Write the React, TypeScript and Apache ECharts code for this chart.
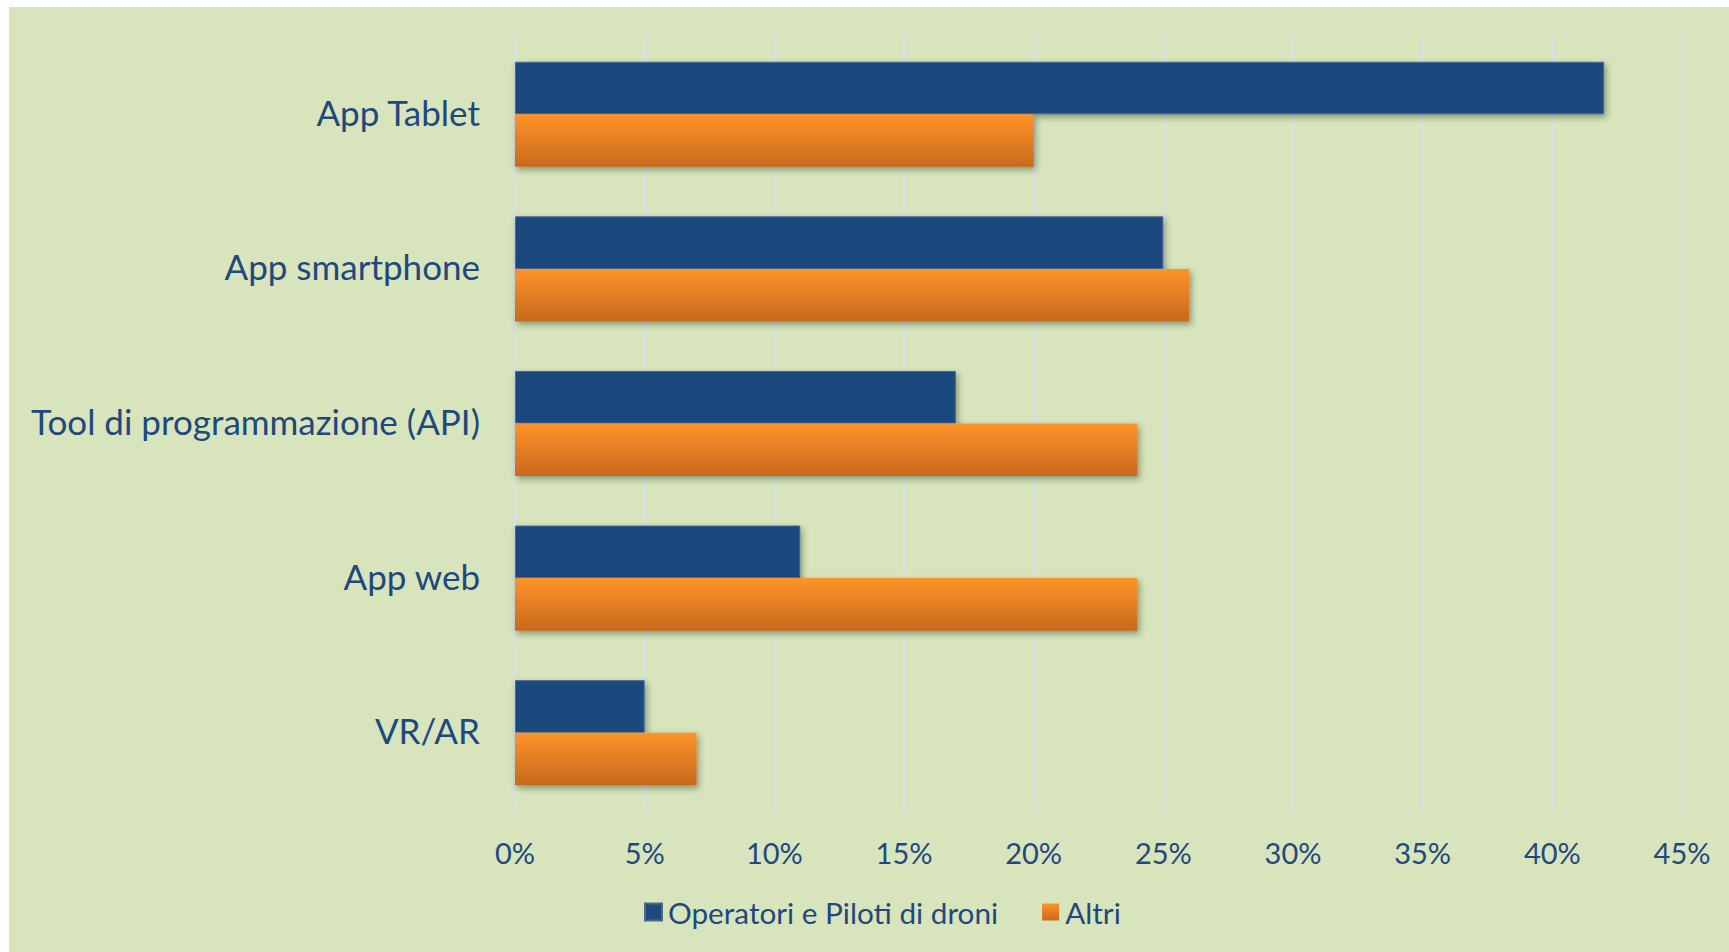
import React, { useEffect, useRef } from "react";
import * as echarts from "echarts";

const categories = ["App Tablet", "App smartphone", "Tool di programmazione (API)", "App web", "VR/AR"];
const seriesNames = ["Operatori e Piloti di droni", "Altri"];
const operatori = [42, 25, 17, 11, 5];
const altri = [20, 26, 24, 24, 7];
const tickMax = 45;
const tickStep = 5;

const TEXT = "#1F497D";
const FONT = "Lato";

export default function App() {
  const ref = useRef<HTMLDivElement>(null);
  useEffect(() => {
    if (!ref.current) return;
    const chart = echarts.init(ref.current, null, { renderer: "svg" });
    const shadow = {
      shadowColor: "rgba(40,50,20,0.45)",
      shadowBlur: 6,
      shadowOffsetX: 2,
      shadowOffsetY: 3,
    };
    chart.setOption({
      animation: false,
      backgroundColor: "#D8E4BC",
      textStyle: { fontFamily: FONT, color: TEXT },
      grid: { left: 506, right: 47, top: 30, bottom: 142 },
      legend: {
        left: 630,
        top: 885,
        itemWidth: 17,
        itemHeight: 17,
        itemGap: 44,
        icon: "rect",
        textStyle: { fontFamily: FONT, fontSize: 29.7, color: TEXT, padding: [0, 0, 0, 1] },
        data: seriesNames,
      },
      xAxis: {
        type: "value",
        min: 0,
        max: tickMax,
        interval: tickStep,
        axisLine: { show: false },
        axisTick: { show: false },
        splitLine: { show: true, lineStyle: { color: "#D5E0EC", width: 2 } },
        axisLabel: {
          formatter: "{value}%",
          fontFamily: FONT,
          fontSize: 29,
          color: TEXT,
          margin: 28,
        },
      },
      yAxis: {
        type: "category",
        inverse: true,
        data: categories,
        axisLine: { show: false },
        axisTick: { show: false },
        axisLabel: {
          fontFamily: FONT,
          fontSize: 35,
          color: TEXT,
          margin: 35,
          verticalAlign: "bottom",
          lineHeight: 5,
        },
      },
      series: [
        {
          name: seriesNames[0],
          type: "bar",
          data: operatori,
          barGap: "0%",
          barCategoryGap: "32%",
          itemStyle: { color: "#1F497D", borderColor: "#4A6A90", borderWidth: 1, ...shadow },
        },
        {
          name: seriesNames[1],
          type: "bar",
          data: altri,
          barGap: "0%",
          barCategoryGap: "32%",
          itemStyle: {
            color: new echarts.graphic.LinearGradient(0, 0, 0, 1, [
              { offset: 0, color: "#FF9329" },
              { offset: 1, color: "#C8691D" },
            ]),
            ...shadow,
          },
        },
      ],
    });
    return () => chart.dispose();
  }, []);
  return (
    <div style={{ position: "fixed", left: 0, top: 0, width: 1729, height: 952, background: "#ffffff" }}>
      <div ref={ref} style={{ position: "absolute", left: 9, top: 7, width: 1720, height: 945 }} />
    </div>
  );
}
